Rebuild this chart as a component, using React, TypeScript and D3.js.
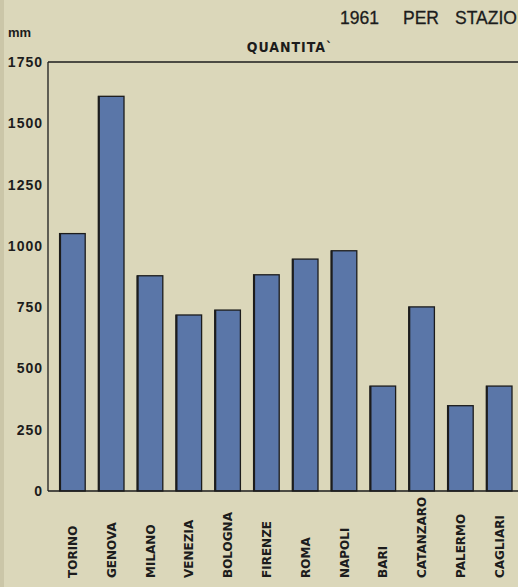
import React from "react";
import * as d3 from "d3";

const stations = ["TORINO", "GENOVA", "MILANO", "VENEZIA", "BOLOGNA", "FIRENZE", "ROMA", "NAPOLI", "BARI", "CATANZARO", "PALERMO", "CAGLIARI"];
const rainfall = [1050, 1610, 878, 718, 738, 882, 946, 980, 428, 751, 348, 428];
const yTicks = [0, 250, 500, 750, 1000, 1250, 1500, 1750];

const W = 518;
const H = 587;
const BG = "#dbd7ba";
const BAR = "#5a76a8";
const INK = "#1c1c1c";

export default function App() {
  const x0 = 48;
  const y = d3.scaleLinear().domain([0, 1750]).range([491, 62]);
  const x = d3
    .scaleBand<string>()
    .domain(stations)
    .range([53, 53 + 12 * 38.8])
    .paddingInner(0.34)
    .paddingOuter(0.17);
  const data = stations.map((s, i) => ({ s, v: rainfall[i] }));

  return (
    <svg
      width={W}
      height={H}
      style={{ position: "absolute", left: 0, top: 0, background: BG }}
    >
      <rect x={0} y={0} width={W} height={H} fill={BG} />
      <rect x={0} y={0} width={4} height={H} fill="#cbc6a8" />
      {/* title */}
      <g fontFamily="'Liberation Sans', Arial, sans-serif" fontSize={17.5} fill={INK} stroke={INK} strokeWidth={0.3}>
        <text x={340} y={24}>1961</text>
        <text x={403} y={24}>PER</text>
        <text x={455} y={24}>STAZIONI</text>
      </g>
      <text x={8} y={37} fontFamily="'Liberation Sans', Arial, sans-serif" fontSize={13} fontWeight="bold" fill={INK}>
        mm
      </text>
      <text
        x={290}
        y={52}
        textAnchor="middle"
        fontFamily="'DejaVu Sans Condensed', 'DejaVu Sans', sans-serif"
        fontWeight="bold"
        fontSize={14}
        letterSpacing={1}
        fill={INK}
      >
        QUANTITA`
      </text>

      {/* bars */}
      {data.map((d) => {
        const bx = x(d.s)!;
        const bw = x.bandwidth();
        const top = y(d.v);
        return (
          <g key={d.s}>
            <rect x={bx} y={top} width={bw} height={y(0) - top} fill={BAR} stroke={INK} strokeWidth={1.3} />
            <line x1={bx + 0.5} x2={bx + 0.5} y1={top} y2={y(0)} stroke={INK} strokeWidth={2} />
          </g>
        );
      })}

      {/* frame */}
      <line x1={x0} x2={W} y1={y(1750)} y2={y(1750)} stroke={INK} strokeWidth={1.5} />
      <line x1={x0} x2={W} y1={y(0)} y2={y(0)} stroke={INK} strokeWidth={1.5} />
      <line x1={x0} x2={x0} y1={y(1750)} y2={y(0)} stroke={INK} strokeWidth={1.3} />

      {/* y tick labels */}
      <g fontFamily="'Liberation Sans', Arial, sans-serif" fontSize={14} fontWeight="bold" fill={INK}>
        {yTicks.map((t) => (
          <text key={t} x={43} y={y(t)} dy="0.36em" textAnchor="end" letterSpacing={1}>
            {t}
          </text>
        ))}
      </g>

      {/* category labels */}
      <g fontFamily="'DejaVu Sans', sans-serif" fontSize={12} fontWeight="bold" fill={INK}>
        {stations.map((s) => {
          const cx = x(s)! + x.bandwidth() / 2;
          return (
            <text
              key={s}
              transform={`translate(${cx + 4.5},578) rotate(-90)`}
              textAnchor="start"
            >
              {s}
            </text>
          );
        })}
      </g>
    </svg>
  );
}
